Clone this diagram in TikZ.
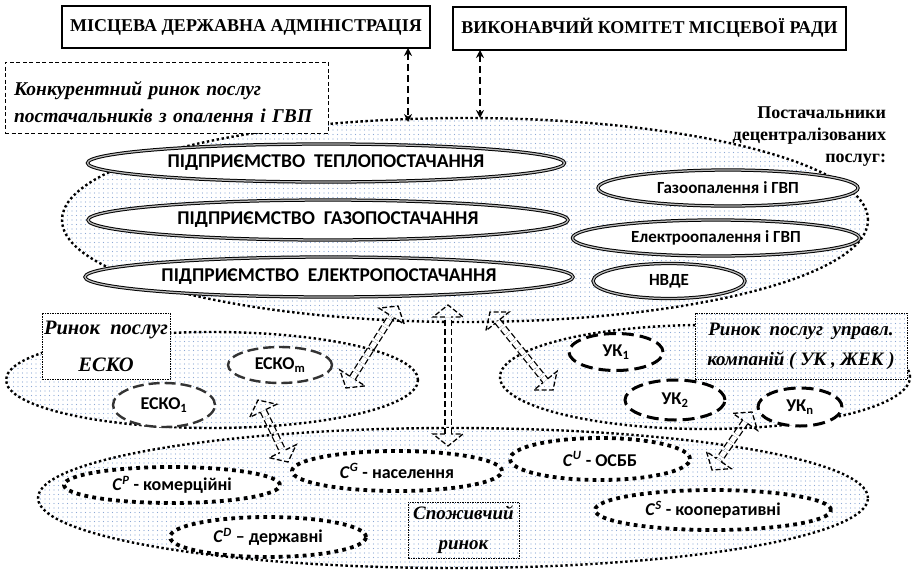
\documentclass[tikz,border=0pt]{standalone}
\usepackage{fontspec}
\setmainfont{Liberation Serif}
\newfontfamily\tnr{Liberation Serif}
\newfontfamily\calib{Carlito}
\usetikzlibrary{shapes.geometric,arrows.meta,patterns.meta,calc,decorations.markings}
\definecolor{dotblue}{RGB}{140,168,212}
\begin{document}
\begin{tikzpicture}[x=1pt,y=-1pt,
  every node/.style={inner sep=0pt, outer sep=0pt},
  govbox/.style={draw, line width=2pt, font=\tnr\bfseries\fontsize{18}{20}\selectfont},
  market/.style={ellipse, draw, line width=2.4pt, dash pattern=on 2.4pt off 2.6pt,
    pattern={Dots[distance=4.5pt, radius=0.6pt]}, pattern color=dotblue},
  firm/.style={ellipse, draw, fill=white, line width=1pt, double=gray!55, double distance=1.3pt,
    font=\calib\bfseries\fontsize{19.5}{22}\selectfont},
  dfirm/.style={firm, font=\calib\bfseries\fontsize{17}{19}\selectfont},
  esco/.style={ellipse, draw=black!80, fill=white, line width=2.4pt, dash pattern=on 11pt off 5pt,
    font=\calib\bfseries\fontsize{18}{20}\selectfont},
  ukell/.style={ellipse, draw, fill=white, line width=3pt, dash pattern=on 12pt off 6pt,
    font=\calib\bfseries\fontsize{18}{20}\selectfont},
  cons/.style={ellipse, draw, fill=white, line width=3.8pt, dash pattern=on 3.8pt off 4.2pt,
    font=\calib\bfseries\fontsize{18}{20}\selectfont},
  capbox/.style={draw, line width=0.8pt, dash pattern=on 1.5pt off 1pt, align=center},
  vlink/.style={line width=2pt, dash pattern=on 7pt off 4pt,
    {Stealth[length=8pt,width=8pt]}-{Stealth[length=8pt,width=8pt]}},
  headline/.style={line width=1.3pt, dash pattern=on 5pt off 2.5pt, line join=miter},
  dblarrow/.style={draw=none,
    preaction={draw, line width=1.3pt, double=white, double distance=5pt, dash pattern=on 6pt off 3pt,
      shorten <=12pt, shorten >=12pt},
    postaction={decorate, decoration={markings,
      mark=at position 0 with {\draw[headline] (12,-3.2) -- (12,-15) -- (0,0) -- (12,15) -- (12,3.2);},
      mark=at position 1 with {\draw[headline] (-12,-3.2) -- (-12,-15) -- (0,0) -- (-12,15) -- (-12,3.2);}}}}
]
\useasboundingbox (0,0) rectangle (913,571);

% market areas
\node[market, minimum width=806pt, minimum height=204pt] (sup) at (465,220) {};
\node[market, minimum width=412pt, minimum height=96pt] (escomkt) at (212,380) {};
\node[market, minimum width=410pt, minimum height=104pt] (ukmkt) at (705,377) {};
\node[market, minimum width=830pt, minimum height=140pt] (consmkt) at (453,498) {};

% authorities
\node[govbox, minimum width=368pt, minimum height=42pt] (adm) at (246,27) {МІСЦЕВА ДЕРЖАВНА АДМІНІСТРАЦІЯ};
\node[govbox, minimum width=393pt, minimum height=43pt] (vk) at (649.5,28) {ВИКОНАВЧИЙ КОМІТЕТ МІСЦЕВОЇ РАДИ};

\coordinate (admlow) at (408,48);
\coordinate (suptopA) at (408,122);
\coordinate (vklow) at (480,50);
\coordinate (suptopB) at (480,118);
\draw[vlink] (admlow) -- (suptopA);
\draw[vlink] (vklow) -- (suptopB);

% market captions
\node[draw, fill=white, line width=1pt, dash pattern=on 4pt off 2.5pt, minimum width=323pt, minimum height=71pt,
  text width=305pt, align=left, font=\tnr\bfseries\itshape\fontsize{19.5}{27}\selectfont] (conc) at (166.5,97.5)
  {\rule{0pt}{24pt}Конкурентний ринок послуг\\постачальників з опалення і ГВП};

\node[font=\tnr\bfseries\fontsize{18}{22}\selectfont, align=right, anchor=north east] (decent) at (886,107)
  {Постачальники\\децентралізованих\\послуг:};

% centralised suppliers
\node[firm, minimum width=477pt, minimum height=38pt] (heat) at (326,163) {ПІДПРИЄМСТВО\ \ ТЕПЛОПОСТАЧАННЯ};
\node[firm, minimum width=480pt, minimum height=40pt] (gas) at (328,220) {ПІДПРИЄМСТВО\ \ ГАЗОПОСТАЧАННЯ};
\node[firm, minimum width=488pt, minimum height=40pt] (elec) at (329,277) {ПІДПРИЄМСТВО\ \ ЕЛЕКТРОПОСТАЧАННЯ};

% decentralised suppliers
\node[dfirm, minimum width=260pt, minimum height=36pt] (gasheat) at (728,188) {Газоопалення і ГВП};
\node[dfirm, minimum width=287pt, minimum height=36pt] (elheat) at (716,238) {Електроопалення і ГВП};
\node[dfirm, minimum width=152pt, minimum height=35pt] (nvde) at (669,281) {НВДЕ};

% ESCO market
\node[capbox, fill=white, minimum width=128pt, minimum height=66pt,
  font=\tnr\bfseries\itshape\fontsize{20.5}{37}\selectfont] (escolab) at (106,346) {Ринок\ \ послуг\\ЕСКО};
\node[esco, minimum width=104pt, minimum height=36pt] (escom) at (280,365) {ЕСКО\textsubscript{m}};
\node[esco, minimum width=102pt, minimum height=44pt] (esco1) at (164,405) {ЕСКО\textsubscript{1}};

% management companies market
\node[capbox, minimum width=212pt, minimum height=66pt,
  preaction={fill=white}, pattern={Dots[distance=4.5pt, radius=0.6pt]}, pattern color=dotblue,
  font=\tnr\bfseries\itshape\fontsize{19}{30}\selectfont] (uklab) at (801,346)
  {Ринок\ \ послуг\ \ управл.\\компаній\ ( УК , ЖЕК )};
\node[ukell, minimum width=94pt, minimum height=37pt] (uk1) at (616,352) {УК\textsubscript{1}};
\node[ukell, minimum width=100pt, minimum height=40pt] (uk2) at (675,400) {УК\textsubscript{2}};
\node[ukell, minimum width=84pt, minimum height=38pt] (ukn) at (800,407) {УК\textsubscript{n}};

% consumers
\node[capbox, minimum width=111pt, minimum height=56pt,
  font=\tnr\bfseries\itshape\fontsize{19}{30}\selectfont] (conslab) at (463.5,530) {Споживчий\\ринок};
\node[cons, minimum width=216pt, minimum height=36pt] (cp) at (172,485) {\textit{C}\textsuperscript{\itshape P} - комерційні};
\node[cons, minimum width=210pt, minimum height=40pt] (cg) at (397,471) {\textit{C}\textsuperscript{\itshape G} - населення};
\node[cons, minimum width=180pt, minimum height=42pt] (cu) at (600,459) {\textit{C}\textsuperscript{\itshape U} - ОСББ};
\node[cons, minimum width=236pt, minimum height=40pt] (cs) at (713,510) {\textit{C}\textsuperscript{\itshape S} - кооперативні};
\node[cons, minimum width=196pt, minimum height=40pt] (cd) at (268,537) {\textit{C}\textsuperscript{\itshape D} – державні};

% interaction arrows
\coordinate (escoUp) at (398,306);
\coordinate (escoDn) at (346,388);
\coordinate (midUp) at (448,305);
\coordinate (midDn) at (448,446);
\coordinate (ukUp) at (490,312);
\coordinate (ukDn) at (553,390);
\coordinate (escoLow) at (258,400);
\coordinate (consL) at (288,462);
\coordinate (ukLow) at (752,412);
\coordinate (consR) at (712,470);
\path[dblarrow] (escoDn) -- (escoUp);
\path[dblarrow] (midDn) -- (midUp);
\path[dblarrow] (ukUp) -- (ukDn);
\path[dblarrow] (escoLow) -- (consL);
\path[dblarrow] (ukLow) -- (consR);
\end{tikzpicture}
\end{document}
